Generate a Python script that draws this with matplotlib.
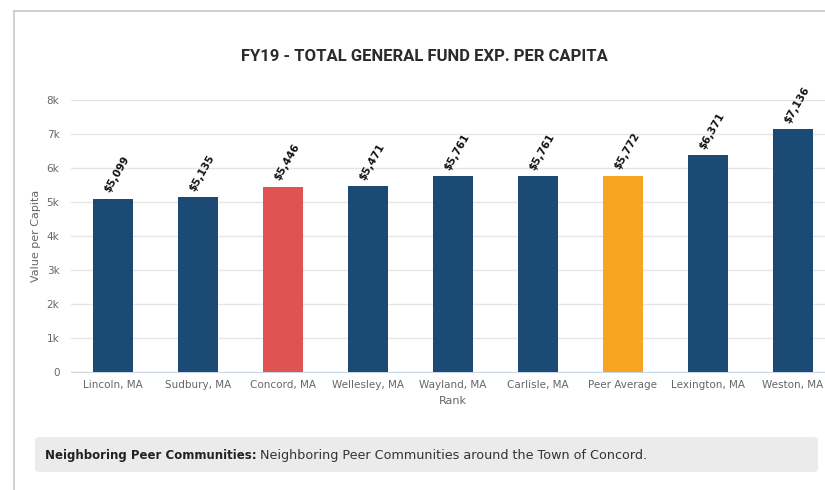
import matplotlib.pyplot as plt
from matplotlib.patches import FancyBboxPatch
from matplotlib.lines import Line2D

towns = ['Lincoln, MA', 'Sudbury, MA', 'Concord, MA', 'Wellesley, MA', 'Wayland, MA',
         'Carlisle, MA', 'Peer Average', 'Lexington, MA', 'Weston, MA']
values = [5099, 5135, 5446, 5471, 5761, 5761, 5772, 6371, 7136]
colors = ['#1b4a74', '#1b4a74', '#e05353', '#1b4a74', '#1b4a74',
          '#1b4a74', '#f7a520', '#1b4a74', '#1b4a74']
yticks = [0, 1000, 2000, 3000, 4000, 5000, 6000, 7000, 8000]
ytick_labels = ['0', '1k', '2k', '3k', '4k', '5k', '6k', '7k', '8k']

fig = plt.figure(figsize=(8.25, 4.9), dpi=100)
ax = fig.add_axes([0.0855, 0.2408, 0.927, 0.555])

x = range(len(towns))
ax.bar(x, values, width=0.47, color=colors, zorder=3)
for i, v in zip(x, values):
    ax.text(i - 0.02, v + 130, '${:,}'.format(v), rotation=60, rotation_mode='anchor',
            ha='left', va='bottom', fontsize=7.5, fontweight='bold', color='#111111', zorder=4)

ax.set_xlim(-0.5, len(towns) - 0.5)
ax.set_ylim(0, 8000)
ax.set_yticks(yticks)
ax.set_yticklabels(ytick_labels)
ax.set_xticks(list(x))
ax.set_xticklabels(towns)
ax.tick_params(axis='both', length=0, labelsize=7.5, labelcolor='#666666')
ax.tick_params(axis='y', pad=8)
ax.tick_params(axis='x', pad=6)
ax.grid(axis='y', color='#e6e6e6', linewidth=1, zorder=0)
for s in ['top', 'right', 'left']:
    ax.spines[s].set_visible(False)
ax.spines['bottom'].set_color('#ccd6eb')
ax.set_ylabel('Value per Capita', fontsize=8, color='#666666', labelpad=4)
ax.set_xlabel('Rank', fontsize=8, color='#666666', labelpad=4)

fig.text(0.515, 0.885, 'FY19 - TOTAL GENERAL FUND EXP. PER CAPITA', ha='center', va='center',
         fontsize=12, fontweight='bold', color='#2b2b2b',
         family=['Roboto', 'DejaVu Sans'], fontstretch='condensed')

# panel border
fig.add_artist(Line2D([14 / 825, 1], [1 - 11 / 490, 1 - 11 / 490], color='#c8c8c8', lw=1.2))
fig.add_artist(Line2D([14 / 825, 14 / 825], [0, 1 - 11 / 490], color='#c8c8c8', lw=1.2))

# footnote box
box = FancyBboxPatch((35 / 825, 1 - 472 / 490), 783 / 825, 35 / 490,
                     boxstyle='round,pad=0,rounding_size=0.006',
                     transform=fig.transFigure, facecolor='#ebebeb', edgecolor='none')
fig.add_artist(box)
t = fig.text(45 / 825, 1 - 455 / 490, 'Neighboring Peer Communities:', ha='left', va='center',
             fontsize=8.5, fontweight='bold', color='#222222')
fig.canvas.draw()
bb = t.get_window_extent()
fig.text((bb.x1 + 3) / fig.bbox.width, 1 - 455 / 490,
         'Neighboring Peer Communities around the Town of Concord.',
         ha='left', va='center', fontsize=9.2, color='#333333')

fig.savefig('out.png', dpi=100)
